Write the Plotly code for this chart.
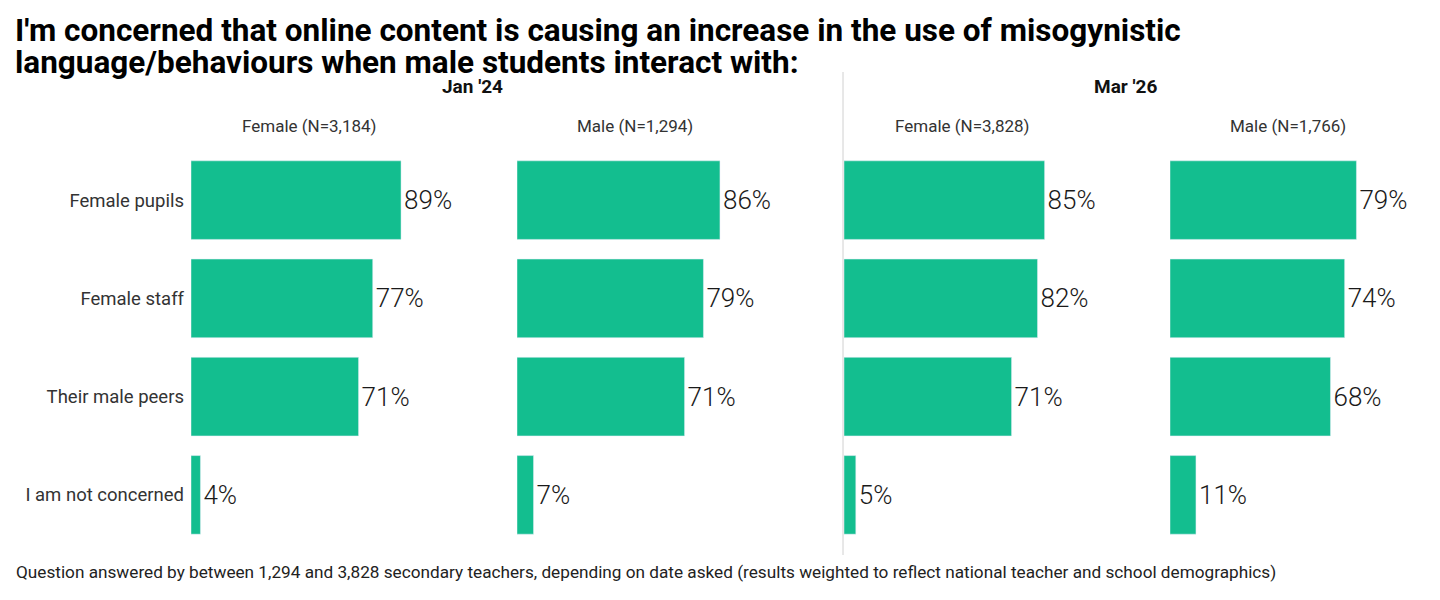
import plotly.graph_objects as go
from plotly.subplots import make_subplots

categories = ['Female pupils', 'Female staff', 'Their male peers', 'I am not concerned']
jan_female = [89, 77, 71, 4]
jan_male = [86, 79, 71, 7]
mar_female = [85, 82, 71, 5]
mar_male = [79, 74, 68, 11]

panel_titles = ['Female (N=3,184)', 'Male (N=1,294)', 'Female (N=3,828)', 'Male (N=1,766)']
group_titles = ["Jan '24", "Mar '26"]
title_lines = ["I'm concerned that online content is causing an increase in the use of misogynistic",
               "language/behaviours when male students interact with:"]
note = ("Question answered by between 1,294 and 3,828 secondary teachers, depending on date asked "
        "(results weighted to reflect national teacher and school demographics)")

GREEN = '#13be8f'
OFF = 8                 # page body margin
W, H = 1440 - OFF, 600 - OFF
FONT = 'Roboto'


def px(x):
    return (x - OFF) / W


def py(y):
    return 1 - (y - OFF) / H


series = [jan_female, jan_male, mar_female, mar_male]
starts = [191, 517, 844, 1170]  # left edge of each panel in page pixels
span = 236                      # pixels for 100%

fig = make_subplots(rows=1, cols=4, shared_yaxes=True)

for i, vals in enumerate(series):
    fig.add_trace(go.Bar(
        x=vals, y=categories, orientation='h',
        marker_color=GREEN, width=0.8,
        text=[f'{v}%' for v in vals], textposition='outside',
        textfont=dict(size=26, color='#1a1a1a', family=FONT, weight=300),
        cliponaxis=False, hoverinfo='skip', showlegend=False,
    ), row=1, col=i + 1)
    ax = 'xaxis' if i == 0 else f'xaxis{i + 1}'
    fig.layout[ax].update(
        domain=[px(starts[i]), px(starts[i] + span)],
        range=[0, 100], visible=False, fixedrange=True,
    )
    fig.add_annotation(
        text=panel_titles[i], xref='paper', yref='paper',
        x=px(starts[i] + span / 2), y=py(126),
        showarrow=False, xanchor='center', yanchor='middle',
        font=dict(size=17, color='#333333', family=FONT),
    )

for i, g in enumerate(group_titles):
    x0 = starts[i * 2]
    x1 = starts[i * 2 + 1] + span
    fig.add_annotation(
        text=f'<b>{g}</b>', xref='paper', yref='paper',
        x=px((x0 + x1) / 2), y=py(86),
        showarrow=False, xanchor='center', yanchor='middle',
        font=dict(size=19, color='#111111', family=FONT),
    )

fig.update_yaxes(
    categoryorder='array', categoryarray=categories[::-1],
    domain=[py(544), py(151)], showgrid=False, zeroline=False,
    showline=False, ticks='', fixedrange=True,
    tickfont=dict(size=18.5, color='#333333', family=FONT),
    ticklabelstandoff=6,
)

# divider between the two survey dates
fig.add_shape(type='line', xref='paper', yref='paper',
              x0=px(843), x1=px(843), y0=py(555), y1=py(72),
              line=dict(color='#d0d0d0', width=1))

for j, line in enumerate(title_lines):
    fig.add_annotation(
        text=f'<b>{line}</b>', xref='paper', yref='paper',
        x=px(13), y=py(31 + 32 * j), showarrow=False,
        xanchor='left', yanchor='middle', align='left',
        font=dict(size=31.5, color='#000000', family=FONT),
    )
fig.add_annotation(
    text=note, xref='paper', yref='paper',
    x=px(14), y=py(572), showarrow=False,
    xanchor='left', yanchor='middle', align='left',
    font=dict(size=17.2, color='#222222', family=FONT),
)

fig.update_layout(
    width=W, height=H,
    margin=dict(l=0, r=0, t=0, b=0),
    plot_bgcolor='white', paper_bgcolor='white',
    font=dict(family=FONT),
    bargap=0.2,
)

fig.write_html('out.html')
